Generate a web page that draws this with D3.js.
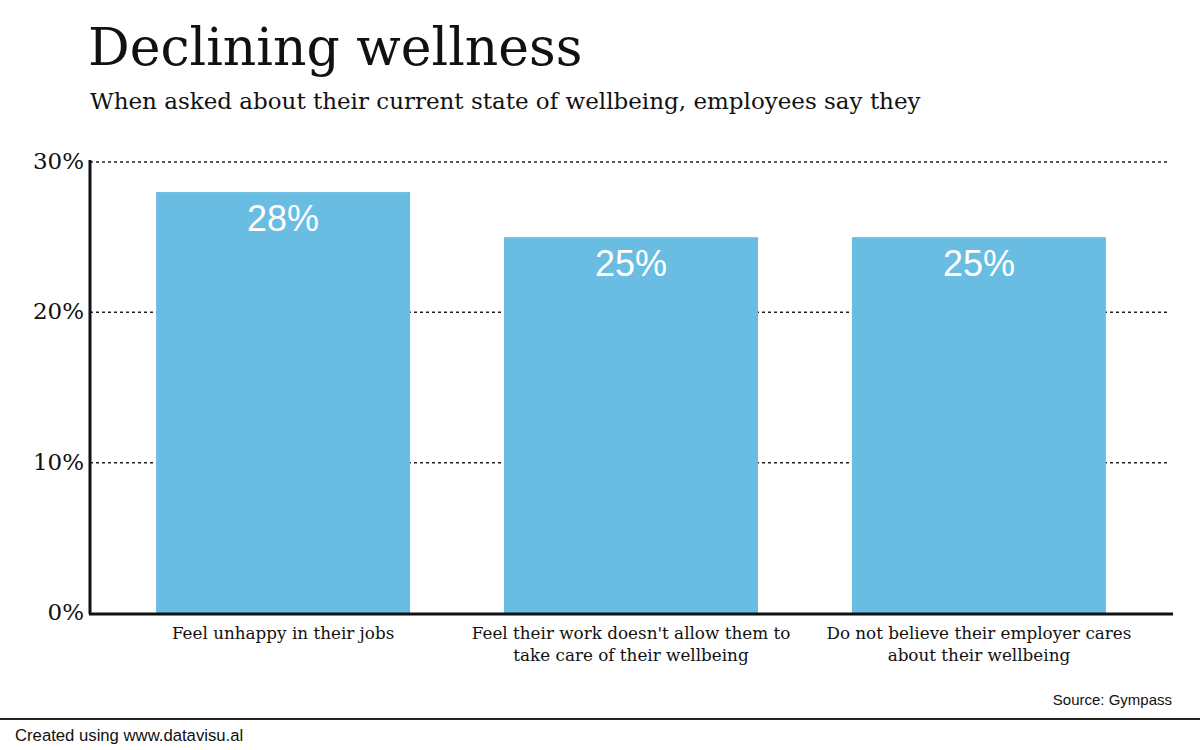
<!DOCTYPE html>
<html>
<head>
<meta charset="utf-8">
<script src="https://cdn.jsdelivr.net/npm/d3@7"></script>
<style>
  body { margin: 0; background: #fff; }
  svg { display: block; }
</style>
</head>
<body>
<div class="canvas"></div>
<script>
const categories = [
  ["Feel unhappy in their jobs"],
  ["Feel their work doesn't allow them to", "take care of their wellbeing"],
  ["Do not believe their employer cares", "about their wellbeing"],
];
const values = [28, 25, 25];
const yTicks = [0, 10, 20, 30];

const width = 1200;
const height = 750;
const serif = "Georgia, 'DejaVu Serif', serif";
const sans = "Arial, 'Liberation Sans', sans-serif";

const svg = d3
  .select(".canvas")
  .append("svg")
  .attr("width", width)
  .attr("height", height);

// titles
svg
  .append("text")
  .attr("x", 88)
  .attr("y", 65)
  .attr("font-family", serif)
  .attr("font-size", 52)
  .attr("fill", "#111")
  .text("Declining wellness");

svg
  .append("text")
  .attr("x", 90)
  .attr("y", 109)
  .attr("font-family", serif)
  .attr("font-size", 23)
  .attr("fill", "#111")
  .text("When asked about their current state of wellbeing, employees say they");

// scales
const x = d3
  .scaleBand()
  .domain(d3.range(values.length))
  .range([90, 1172])
  .paddingInner(0.27)
  .paddingOuter(0.19);

const y = d3.scaleLinear().domain([0, 30]).range([613, 162]);

// gridlines
svg
  .append("g")
  .selectAll("line")
  .data(yTicks.filter((d) => d > 0))
  .join("line")
  .attr("x1", 90)
  .attr("x2", 1170)
  .attr("y1", (d) => y(d))
  .attr("y2", (d) => y(d))
  .attr("stroke", "#222")
  .attr("stroke-width", 1.5)
  .attr("stroke-dasharray", "3,3");

// bars
svg
  .append("g")
  .selectAll("rect")
  .data(values)
  .join("rect")
  .attr("x", (d, i) => x(i))
  .attr("y", (d) => y(d))
  .attr("width", x.bandwidth())
  .attr("height", (d) => y(0) - y(d))
  .attr("fill", "#69bce2");

// value labels
svg
  .append("g")
  .selectAll("text")
  .data(values)
  .join("text")
  .attr("x", (d, i) => x(i) + x.bandwidth() / 2)
  .attr("y", (d) => y(d) + 39)
  .attr("text-anchor", "middle")
  .attr("font-family", sans)
  .attr("font-size", 36)
  .attr("fill", "#fff")
  .text((d) => `${d}%`);

// y axis labels
svg
  .append("g")
  .selectAll("text")
  .data(yTicks)
  .join("text")
  .attr("x", 84)
  .attr("y", (d) => y(d) + 7)
  .attr("text-anchor", "end")
  .attr("font-family", serif)
  .attr("font-size", 23)
  .attr("fill", "#111")
  .text((d) => `${d}%`);

// axes lines
svg
  .append("line")
  .attr("x1", 90)
  .attr("x2", 90)
  .attr("y1", 160)
  .attr("y2", 614)
  .attr("stroke", "#111")
  .attr("stroke-width", 3);

svg
  .append("line")
  .attr("x1", 89)
  .attr("x2", 1173)
  .attr("y1", 614)
  .attr("y2", 614)
  .attr("stroke", "#111")
  .attr("stroke-width", 3);

// category labels
const catLabels = svg
  .append("g")
  .selectAll("text")
  .data(categories)
  .join("text")
  .attr("x", (d, i) => x(i) + x.bandwidth() / 2)
  .attr("y", 639)
  .attr("text-anchor", "middle")
  .attr("font-family", serif)
  .attr("font-size", 16.8)
  .attr("fill", "#111");

catLabels
  .selectAll("tspan")
  .data((d, i) => d.map((t) => ({ t, cx: x(i) + x.bandwidth() / 2 })))
  .join("tspan")
  .attr("x", (d) => d.cx)
  .attr("dy", (d, i) => (i === 0 ? 0 : 22))
  .text((d) => d.t);

// source
svg
  .append("text")
  .attr("x", 1172)
  .attr("y", 705)
  .attr("text-anchor", "end")
  .attr("font-family", sans)
  .attr("font-size", 15)
  .attr("fill", "#111")
  .text("Source: Gympass");

// footer
svg
  .append("line")
  .attr("x1", 0)
  .attr("x2", width)
  .attr("y1", 719)
  .attr("y2", 719)
  .attr("stroke", "#222")
  .attr("stroke-width", 2);

svg
  .append("text")
  .attr("x", 15)
  .attr("y", 741)
  .attr("font-family", sans)
  .attr("font-size", 16.7)
  .attr("fill", "#111")
  .text("Created using www.datavisu.al");
</script>
</body>
</html>
